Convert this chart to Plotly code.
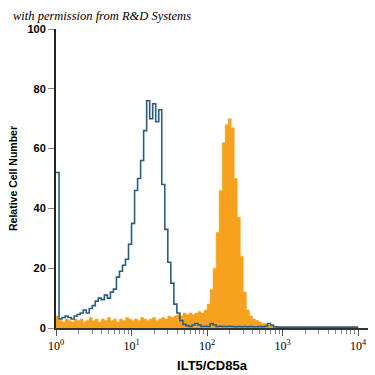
import numpy as np
import plotly.graph_objects as go

# channel positions (log10 of fluorescence), step 0.04
log_channels = np.round(np.arange(0, 4.0001, 0.04), 2)

blue_vals = [52, 3, 3.5, 4, 3.5, 3, 4, 4.5, 5, 6,
             5, 6.5, 7.5, 9, 10, 9.5, 11, 10, 12, 13,
             17, 19, 21, 23, 28, 35, 46, 50, 56, 66,
             76, 70, 75, 69, 73, 48, 33, 22, 15, 8,
             5, 2.5, 1.2, 0.8, 0.5, 1, 1.5, 1, 0.5, 0.6,
             0.5, 1.5, 1, 0.5, 0.6, 0.5, 0.5, 0.6, 0.5, 0.4,
             0.5, 0.4, 0.5, 0.4, 0.5, 0.4, 0.4, 0.5, 0.4, 0.6,
             1.5, 1, 0.4, 0.3, 0.3, 0.3, 0.3, 0.3, 0.3, 0.3,
             0.3, 0.3, 0.3, 0.3, 0.3, 0.3, 0.3, 0.3, 0.3, 0.3,
             0.3, 0.3, 0.3, 0.3, 0.3, 0.3, 0.3, 0.3, 0.3, 0.3, 0.3]

orange_vals = [4, 2.5, 2, 3, 2.5, 2, 3, 2.5, 3, 2,
               2.5, 3.5, 2.5, 3, 2, 3, 2.5, 3.5, 2.5, 3,
               2, 3, 2.5, 3.5, 3, 2.5, 3, 2.5, 3.5, 3,
               2.5, 3, 3.5, 2.5, 3, 3.5, 3, 4, 3.5, 4,
               4.5, 4, 5, 4.5, 5, 4.5, 5, 5.5, 5, 6,
               8, 13, 20, 32, 46, 62, 68, 70, 67, 50,
               37, 24, 12, 6, 4, 3, 2.5, 2, 1.5, 1.5,
               1, 1, 0.5, 0, 0, 0, 0, 0, 0, 0,
               0, 0, 0, 0, 0, 0, 0, 0, 0, 0,
               0, 0, 0, 0, 0, 0, 0, 0, 0, 0, 0]

x_vals = 10 ** log_channels

y_ticks = [0, 20, 40, 60, 80, 100]
x_ticks = [1, 10, 100, 1000, 10000]
x_ticktext = ["10<sup>0</sup>", "10<sup>1</sup>", "10<sup>2</sup>", "10<sup>3</sup>", "10<sup>4</sup>"]
minor_x = [k * 10 ** d for d in range(4) for k in range(2, 10)]

fig = go.Figure()
fig.add_trace(go.Scatter(x=x_vals, y=orange_vals, mode="lines", line_shape="hv",
                         fill="tozeroy", fillcolor="#f7a21e",
                         line=dict(color="#f7a21e", width=0.5), hoverinfo="skip"))
fig.add_trace(go.Scatter(x=x_vals, y=blue_vals, mode="lines", line_shape="hv",
                         line=dict(color="#2b5e7e", width=1.6), hoverinfo="skip"))

fig.update_layout(
    width=375, height=375,
    margin=dict(l=56, r=7, t=29, b=47, autoexpand=False),
    paper_bgcolor="white", plot_bgcolor="white",
    showlegend=False,
    font=dict(family="Liberation Sans", color="black"),
    xaxis=dict(type="log", range=[0, 4.13], tickvals=x_ticks, ticktext=x_ticktext,
               ticks="outside", ticklen=6, tickcolor="#555", tickwidth=1,
               tickfont=dict(size=12, family="Liberation Serif"),
               showline=True, linecolor="#333", linewidth=1.5,
               showgrid=False, zeroline=False, automargin=False,
               minor=dict(tickvals=minor_x, ticks="outside", ticklen=4, tickcolor="#888", showgrid=False),
               title=dict(text="<b>ILT5/CD85a</b>", font=dict(size=13), standoff=9)),
    yaxis=dict(range=[0, 100], tickvals=y_ticks, ticktext=["<b>%d</b>" % v for v in y_ticks],
               ticks="outside", ticklen=6, tickcolor="#888", tickwidth=1,
               tickfont=dict(size=11),
               showline=True, linecolor="#222", linewidth=2,
               showgrid=False, zeroline=False, automargin=False,
               title=dict(text="<b>Relative Cell Number</b>", font=dict(size=10.5), standoff=8)),
)

fig.add_annotation(text="<i>with permission from R&amp;D Systems</i>", xref="paper", yref="paper",
                   x=-0.143, y=1.0, yshift=13, xanchor="left", yanchor="middle", showarrow=False,
                   font=dict(family="Liberation Serif", size=12.5, color="black"))

fig.write_html("out.html", config={"displayModeBar": False},
               post_script="document.body.style.margin='0';document.body.style.padding='0';")
